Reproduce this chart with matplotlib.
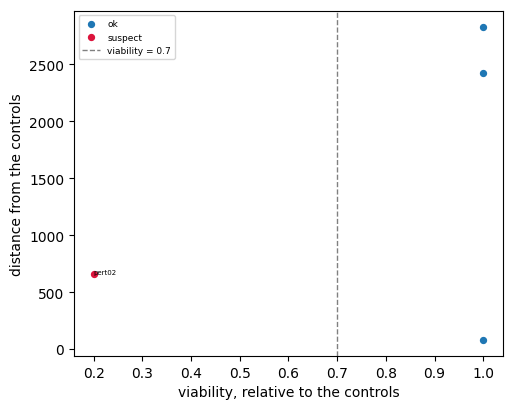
import matplotlib
matplotlib.use("Agg")
import matplotlib.pyplot as plt

ok_x = [1.0, 1.0, 1.0]
ok_y = [2830, 2420, 75]
sus_x = [0.2]
sus_y = [660]
sus_names = ["pert02"]
threshold = 0.7

fig, ax = plt.subplots(figsize=(5.11, 4.1), dpi=100)
ax.scatter(ok_x, ok_y, s=18, color="#1f77b4", label="ok")
ax.scatter(sus_x, sus_y, s=18, color="crimson", label="suspect")
for x, y, n in zip(sus_x, sus_y, sus_names):
    ax.text(x, y, n, fontsize=5)
ax.axvline(threshold, color="gray", linestyle="--", linewidth=1, label="viability = 0.7")
ax.set_xlabel("viability, relative to the controls")
ax.set_ylabel("distance from the controls")
ax.legend(fontsize=6.5, loc="upper left")
fig.subplots_adjust(left=0.145, right=0.984, top=0.971, bottom=0.129)
fig.savefig("out.png")
